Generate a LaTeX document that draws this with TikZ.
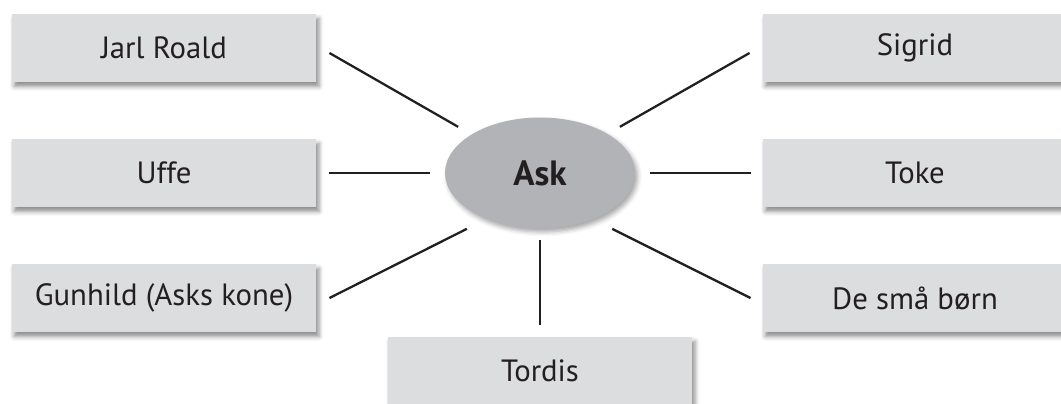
\documentclass[tikz,border=0pt]{standalone}
\usepackage{fontspec}
\setmainfont{PT Sans}
\usetikzlibrary{shapes,shadows.blur}

\definecolor{boxgray}{HTML}{DCDDDF}
\definecolor{askgray}{HTML}{B2B3B6}
\definecolor{ink}{HTML}{231F20}

\tikzset{
  person/.style={rectangle, fill=boxgray, minimum width=6.1cm, minimum height=1.36cm,
    outer sep=0pt, text=ink, font=\fontsize{17.5}{20}\selectfont,
    blur shadow={shadow xshift=1.5pt, shadow yshift=-2.5pt, shadow blur radius=2.5pt, shadow opacity=45}},
  hub/.style={ellipse, fill=askgray, minimum width=3.8cm, minimum height=2.22cm,
    outer sep=0pt, text=ink, font=\fontsize{20}{24}\selectfont\bfseries,
    blur shadow={shadow xshift=1.5pt, shadow yshift=-2pt, shadow blur radius=2.5pt, shadow opacity=35}},
  link/.style={draw=ink, line width=1.3pt}
}

\begin{document}
\begin{tikzpicture}[x=0.02cm, y=-0.02cm]
\path[use as bounding box, clip] (0,0) rectangle (1061,403);

% the centre
\node[hub] (ask) at (540,173) {Ask};

% left column
\node[person] (jarl) at (164,48) {Jarl Roald};
\node[person] (uffe) at (164,173) {Uffe};
\node[person] (gunhild) at (164,298) {Gunhild (Asks kone)};

% right column
\node[person] (sigrid) at (915,48) {Sigrid};
\node[person] (toke) at (915,173) {Toke};
\node[person] (born) at (915,298) {De små børn};

% below
\node[person] (tordis) at (540,371) {Tordis};

% connectors
\draw[link] ([shift={(13,5)}]jarl.east) -- ([shift={(-13,-8)}]ask.151);
\draw[link] ([shift={(11,-8)}]ask.29) -- ([shift={(-13,5)}]sigrid.west);
\draw[link] ([shift={(13,0)}]uffe.east) -- ([shift={(-15,0)}]ask.west);
\draw[link] ([shift={(15,0)}]ask.east) -- ([shift={(-12,0)}]toke.west);
\draw[link] ([shift={(13,0)}]gunhild.east) -- ([shift={(-15,12)}]ask.217);
\draw[link] ([shift={(14,12)}]ask.323) -- ([shift={(-12,0)}]born.west);
\draw[link] ([shift={(0,12)}]ask.south) -- ([shift={(0,-12)}]tordis.north);
\end{tikzpicture}
\end{document}
